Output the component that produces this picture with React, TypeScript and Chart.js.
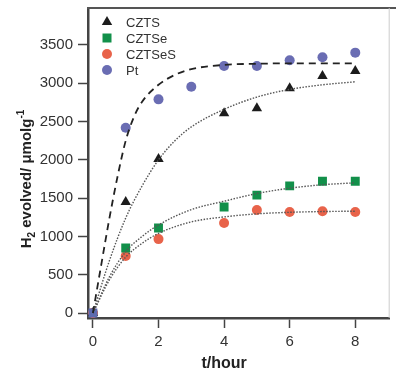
import React, { useEffect, useRef } from "react";
import { Chart, registerables } from "chart.js";

Chart.register(...registerables);

// ---- data ----
const xTicks = [0, 2, 4, 6, 8];
const yTicks = [0, 500, 1000, 1500, 2000, 2500, 3000, 3500];

const ptX = [0, 1, 2, 3, 4, 5, 6, 7, 8];
const ptY = [0, 2420, 2790, 2955, 3225, 3225, 3300, 3340, 3400];

const sampleX = [0, 1, 2, 4, 5, 6, 7, 8];
const cztsY = [0, 1450, 2010, 2610, 2675, 2935, 3095, 3160];
const cztseY = [0, 850, 1110, 1385, 1540, 1660, 1720, 1720];
const cztsesY = [0, 745, 965, 1175, 1345, 1320, 1330, 1320];

// fitted curves
const ptFitX = [0, 0.25, 0.5, 0.75, 1, 1.25, 1.5, 2, 2.5, 3, 4, 5, 6, 7, 8];
const ptFitY = [0, 620, 1230, 1780, 2250, 2560, 2760, 2980, 3110, 3185, 3240, 3255, 3260, 3260, 3260];
const cztsFitX = [0, 0.5, 1, 1.5, 2, 2.5, 3, 4, 5, 6, 7, 8];
const cztsFitY = [0, 680, 1240, 1660, 2000, 2250, 2430, 2660, 2820, 2920, 2980, 3020];
const fitX = [0, 0.5, 1, 1.5, 2, 3, 4, 5, 6, 7, 8];
const cztseFitY = [0, 470, 800, 1000, 1150, 1350, 1460, 1560, 1630, 1675, 1700];
const cztsesFitY = [0, 430, 730, 910, 1040, 1190, 1255, 1295, 1315, 1325, 1330];

const labels = ["CZTS", "CZTSe", "CZTSeS", "Pt"];
const xTitle = "t/hour";

// ---- styles ----
const W = 396;
const H = 369;
const FONT = '"Liberation Sans", Arial, Helvetica, sans-serif';
const BLACK = "#1c1c1c";
const GREEN = "#12904a";
const RED = "#e8634a";
const BLUE = "#6a6db3";
const ORIGIN = "#5d6bb0";
const AXIS = "#444444";

const toPts = (xs: number[], ys: number[]) => xs.map((x, i) => ({ x, y: ys[i] }));

function drawMarker(ctx: CanvasRenderingContext2D, style: string, x: number, y: number, color: string) {
  ctx.fillStyle = color;
  ctx.beginPath();
  if (style === "triangle") {
    const r = 6;
    ctx.moveTo(x, y - r);
    ctx.lineTo(x + r * 0.866, y + r * 0.5);
    ctx.lineTo(x - r * 0.866, y + r * 0.5);
    ctx.closePath();
  } else if (style === "rect") {
    ctx.rect(x - 4.5, y - 4.5, 9, 9);
  } else {
    ctx.arc(x, y, 5, 0, Math.PI * 2);
  }
  ctx.fill();
}

const zeroPad = (s: any) => {
  s.paddingLeft = 0;
  s.paddingRight = 0;
  s.paddingTop = 0;
  s.paddingBottom = 0;
};

const decor = {
  id: "decor",
  afterDraw(chart: any) {
    const { ctx, chartArea } = chart;
    const { left, top, right, bottom } = chartArea;
    const xs = chart.scales.x;
    const ys = chart.scales.y;
    ctx.save();
    // top / right frame
    ctx.strokeStyle = "#555";
    ctx.lineWidth = 2;
    ctx.beginPath();
    ctx.moveTo(left - 1, top);
    ctx.lineTo(W, top);
    ctx.stroke();
    ctx.strokeStyle = "#ccc";
    ctx.lineWidth = 1;
    ctx.beginPath();
    ctx.moveTo(right - 0.5, top);
    ctx.lineTo(right - 0.5, bottom);
    ctx.stroke();

    // legend
    const styles = ["triangle", "rect", "circle", "circle"];
    const colors = [BLACK, GREEN, RED, BLUE];
    ctx.font = `13px ${FONT}`;
    ctx.textBaseline = "middle";
    ctx.textAlign = "left";
    labels.forEach((lab, i) => {
      const ly = top + 14 + i * 16;
      drawMarker(ctx, styles[i], left + 19, ly, colors[i]);
      ctx.fillStyle = "#333";
      ctx.fillText(lab, left + 38, ly + 1);
    });

    // x title
    ctx.fillStyle = "#222";
    ctx.font = `bold 16px ${FONT}`;
    ctx.textAlign = "center";
    ctx.textBaseline = "alphabetic";
    const cx = (xs.getPixelForValue(xTicks[0]) + xs.getPixelForValue(xTicks[xTicks.length - 1])) / 2;
    ctx.fillText(xTitle, cx, 368);

    // y title: H2 evolved/ μmolg-1
    const cy = (ys.getPixelForValue(yTicks[0]) + ys.getPixelForValue(yTicks[yTicks.length - 1])) / 2;
    const big = `bold 15px ${FONT}`;
    const small = `bold 10px ${FONT}`;
    const parts: [string, string, number][] = [
      ["H", big, 0],
      ["2", small, 4],
      [" evolved/ μmolg", big, 0],
      ["-1", small, -7],
    ];
    let total = 0;
    parts.forEach(([t, f]) => {
      ctx.font = f;
      total += ctx.measureText(t).width;
    });
    ctx.translate(31, cy);
    ctx.rotate(-Math.PI / 2);
    ctx.textAlign = "left";
    let px = -total / 2;
    parts.forEach(([t, f, dy]) => {
      ctx.font = f;
      ctx.fillText(t, px, dy);
      px += ctx.measureText(t).width;
    });
    ctx.restore();
  },
};

export default function App() {
  const ref = useRef<HTMLCanvasElement>(null);
  useEffect(() => {
    document.body.style.margin = "0";
    document.body.style.overflow = "hidden";
    Chart.defaults.font.family = FONT;
    const fitLine = (xs: number[], ys: number[], dash: number[], color: string, width: number) => ({
      type: "line" as const,
      data: toPts(xs, ys),
      borderColor: color,
      borderDash: dash,
      borderWidth: width,
      pointRadius: 0,
      fill: false,
      cubicInterpolationMode: "monotone" as const,
      order: 0,
    });
    const chart = new Chart(ref.current!, {
      type: "scatter",
      data: {
        datasets: [
          fitLine(ptFitX, ptFitY, [7, 5], "#222", 1.8),
          fitLine(cztsFitX, cztsFitY, [1.5, 1.5], "#555", 1.4),
          fitLine(fitX, cztseFitY, [1.5, 1.5], "#555", 1.4),
          fitLine(fitX, cztsesFitY, [1.5, 1.5], "#555", 1.4),
          {
            type: "scatter",
            label: labels[1],
            data: toPts(sampleX, cztseY),
            pointStyle: "rect",
            pointRadius: 6.3,
            pointBackgroundColor: cztseY.map((_, i) => (i === 0 ? ORIGIN : GREEN)),
            pointBorderWidth: 0,
            order: 1,
          },
          {
            type: "scatter",
            label: labels[0],
            data: toPts(sampleX, cztsY),
            pointStyle: "triangle",
            pointRadius: 6,
            pointBackgroundColor: BLACK,
            pointBorderWidth: 0,
            order: 2,
          },
          {
            type: "scatter",
            label: labels[2],
            data: toPts(sampleX, cztsesY),
            pointStyle: "circle",
            pointRadius: 5,
            pointBackgroundColor: RED,
            pointBorderWidth: 0,
            order: 2,
          },
          {
            type: "scatter",
            label: labels[3],
            data: toPts(ptX, ptY),
            pointStyle: "circle",
            pointRadius: 5,
            pointBackgroundColor: BLUE,
            pointBorderWidth: 0,
            order: 2,
          },
        ] as any,
      },
      options: {
        animation: false,
        responsive: false,
        devicePixelRatio: 1,
        layout: { padding: { top: 8, right: 1, left: 0, bottom: 0 } },
        plugins: { legend: { display: false }, tooltip: { enabled: false } },
        scales: {
          x: {
            type: "linear",
            min: -0.15,
            max: 9.05,
            afterBuildTicks: (s: any) => {
              s.ticks = xTicks.map((v) => ({ value: v }));
            },
            afterFit: (s: any) => {
              s.height = 51;
              zeroPad(s);
            },
            ticks: { font: { size: 15 }, color: "#333", padding: 5, callback: (v: any) => String(v) },
            grid: { drawOnChartArea: false, drawTicks: true, tickLength: 10, tickWidth: 1.5, tickColor: AXIS },
            border: { display: true, width: 2.5, color: AXIS },
          },
          y: {
            type: "linear",
            min: -65,
            max: 3983,
            afterBuildTicks: (s: any) => {
              s.ticks = yTicks.map((v) => ({ value: v }));
            },
            afterFit: (s: any) => {
              s.width = 88;
              zeroPad(s);
            },
            ticks: { font: { size: 15 }, color: "#333", padding: 5, callback: (v: any) => String(v) },
            grid: { drawOnChartArea: false, drawTicks: true, tickLength: 10, tickWidth: 1.5, tickColor: AXIS },
            border: { display: true, width: 2.5, color: AXIS },
          },
        },
      },
      plugins: [decor],
    });
    return () => chart.destroy();
  }, []);
  return (
    <div style={{ width: W, height: H }}>
      <canvas ref={ref} width={W} height={H} style={{ display: "block", width: W, height: H }} />
    </div>
  );
}
